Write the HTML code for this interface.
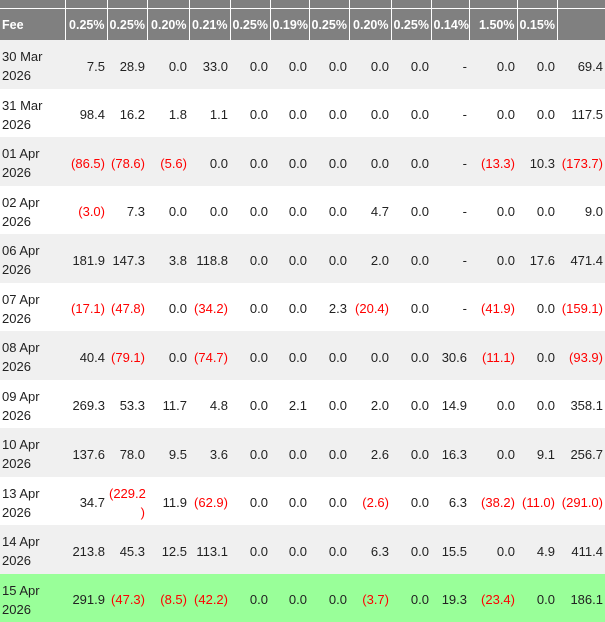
<!DOCTYPE html>
<html><head><style>
body{margin:0;width:605px;height:600px;overflow:hidden;background:#fff;font-family:"Liberation Sans",sans-serif;}
table{border-collapse:collapse;table-layout:fixed;width:605px;position:absolute;left:0;top:0;}
td,th{padding:0 2px 0 2px;font-size:12.5px;text-align:right;overflow:hidden;}
th{background:#808080;color:#fff;font-weight:bold;border-left:1px solid #fff;border-right:1px solid #fff;}
tr.top th{height:8px;border-bottom:1px solid #fff;}
tr.hd th{height:31px;}
th:first-child{text-align:left;border-left:none;}
td{color:#222;height:44.5px;padding-top:4px;line-height:19px;font-size:13px;}
td:first-child{text-align:left;padding-left:2px;}
tr.g td{background:#f0f0f0;}
tr.gr td{background:#99ff99;}
.n{color:#f00;}
</style></head><body>
<table>
<colgroup><col style="width:65px"><col style="width:42px"><col style="width:40px"><col style="width:42px"><col style="width:41px"><col style="width:40px"><col style="width:39px"><col style="width:40px"><col style="width:42px"><col style="width:40px"><col style="width:38px"><col style="width:48px"><col style="width:40px"><col style="width:48px"></colgroup>
<tr class="top"><th></th><th></th><th></th><th></th><th></th><th></th><th></th><th></th><th></th><th></th><th></th><th></th><th></th><th></th></tr>
<tr class="hd"><th>Fee</th><th>0.25%</th><th>0.25%</th><th>0.20%</th><th>0.21%</th><th>0.25%</th><th>0.19%</th><th>0.25%</th><th>0.20%</th><th>0.25%</th><th>0.14%</th><th>1.50%</th><th>0.15%</th><th></th></tr>
<tr class="g"><td>30 Mar<br>2026</td><td>7.5</td><td>28.9</td><td>0.0</td><td>33.0</td><td>0.0</td><td>0.0</td><td>0.0</td><td>0.0</td><td>0.0</td><td>-</td><td>0.0</td><td>0.0</td><td>69.4</td></tr>
<tr><td>31 Mar<br>2026</td><td>98.4</td><td>16.2</td><td>1.8</td><td>1.1</td><td>0.0</td><td>0.0</td><td>0.0</td><td>0.0</td><td>0.0</td><td>-</td><td>0.0</td><td>0.0</td><td>117.5</td></tr>
<tr class="g"><td>01 Apr<br>2026</td><td class="n">(86.5)</td><td class="n">(78.6)</td><td class="n">(5.6)</td><td>0.0</td><td>0.0</td><td>0.0</td><td>0.0</td><td>0.0</td><td>0.0</td><td>-</td><td class="n">(13.3)</td><td>10.3</td><td class="n">(173.7)</td></tr>
<tr><td>02 Apr<br>2026</td><td class="n">(3.0)</td><td>7.3</td><td>0.0</td><td>0.0</td><td>0.0</td><td>0.0</td><td>0.0</td><td>4.7</td><td>0.0</td><td>-</td><td>0.0</td><td>0.0</td><td>9.0</td></tr>
<tr class="g"><td>06 Apr<br>2026</td><td>181.9</td><td>147.3</td><td>3.8</td><td>118.8</td><td>0.0</td><td>0.0</td><td>0.0</td><td>2.0</td><td>0.0</td><td>-</td><td>0.0</td><td>17.6</td><td>471.4</td></tr>
<tr><td>07 Apr<br>2026</td><td class="n">(17.1)</td><td class="n">(47.8)</td><td>0.0</td><td class="n">(34.2)</td><td>0.0</td><td>0.0</td><td>2.3</td><td class="n">(20.4)</td><td>0.0</td><td>-</td><td class="n">(41.9)</td><td>0.0</td><td class="n">(159.1)</td></tr>
<tr class="g"><td>08 Apr<br>2026</td><td>40.4</td><td class="n">(79.1)</td><td>0.0</td><td class="n">(74.7)</td><td>0.0</td><td>0.0</td><td>0.0</td><td>0.0</td><td>0.0</td><td>30.6</td><td class="n">(11.1)</td><td>0.0</td><td class="n">(93.9)</td></tr>
<tr><td>09 Apr<br>2026</td><td>269.3</td><td>53.3</td><td>11.7</td><td>4.8</td><td>0.0</td><td>2.1</td><td>0.0</td><td>2.0</td><td>0.0</td><td>14.9</td><td>0.0</td><td>0.0</td><td>358.1</td></tr>
<tr class="g"><td>10 Apr<br>2026</td><td>137.6</td><td>78.0</td><td>9.5</td><td>3.6</td><td>0.0</td><td>0.0</td><td>0.0</td><td>2.6</td><td>0.0</td><td>16.3</td><td>0.0</td><td>9.1</td><td>256.7</td></tr>
<tr><td>13 Apr<br>2026</td><td>34.7</td><td class="n">(229.2<br>)</td><td>11.9</td><td class="n">(62.9)</td><td>0.0</td><td>0.0</td><td>0.0</td><td class="n">(2.6)</td><td>0.0</td><td>6.3</td><td class="n">(38.2)</td><td class="n">(11.0)</td><td class="n">(291.0)</td></tr>
<tr class="g"><td>14 Apr<br>2026</td><td>213.8</td><td>45.3</td><td>12.5</td><td>113.1</td><td>0.0</td><td>0.0</td><td>0.0</td><td>6.3</td><td>0.0</td><td>15.5</td><td>0.0</td><td>4.9</td><td>411.4</td></tr>
<tr class="gr"><td>15 Apr<br>2026</td><td>291.9</td><td class="n">(47.3)</td><td class="n">(8.5)</td><td class="n">(42.2)</td><td>0.0</td><td>0.0</td><td>0.0</td><td class="n">(3.7)</td><td>0.0</td><td>19.3</td><td class="n">(23.4)</td><td>0.0</td><td>186.1</td></tr>
</table>
</body></html>
